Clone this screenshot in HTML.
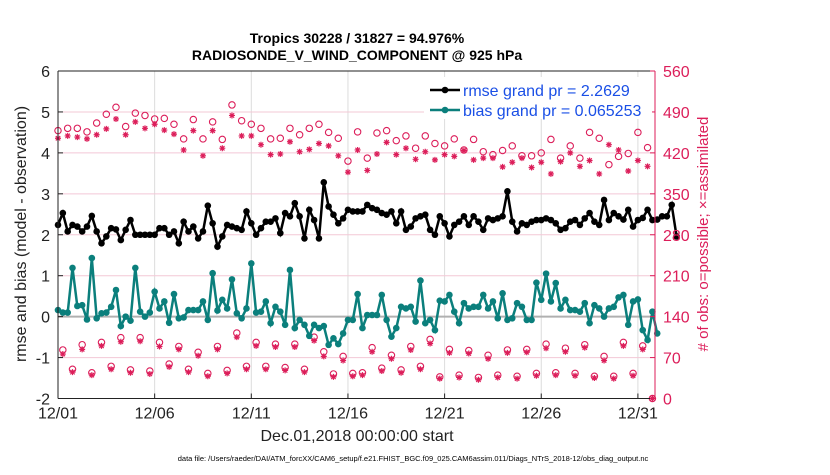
<!DOCTYPE html>
<html><head><meta charset="utf-8"><style>
body{margin:0;background:#fff}
svg text{font-family:"Liberation Sans",sans-serif}
</style></head><body>
<svg width="830" height="470" xmlns="http://www.w3.org/2000/svg">
<g id="g"></g>
</svg>
<script>
const rmse=[2.24,2.53,2.08,2.24,2.2,2.08,2.2,2.46,2.08,1.79,1.96,2.16,2.13,1.87,2.12,2.36,2.0,2.0,2.0,2.0,2.0,2.16,2.16,2.0,2.08,1.79,2.32,2.08,2.2,1.91,2.08,2.71,2.28,1.71,1.96,2.24,2.2,2.16,2.12,2.57,2.28,2.0,2.16,2.32,2.32,2.4,2.04,2.53,2.45,2.77,2.45,1.91,2.61,2.36,1.91,3.28,2.69,2.49,2.28,2.4,2.61,2.57,
2.57,2.57,2.73,2.65,2.61,2.53,2.49,2.57,2.28,2.57,2.12,2.2,2.4,2.45,2.49,2.12,2.0,2.45,2.28,1.96,2.24,2.32,2.45,2.24,2.45,2.32,2.12,2.4,2.36,2.4,2.45,3.06,2.32,2.08,2.28,2.24,2.32,2.36,2.36,2.4,2.36,2.28,2.12,2.16,2.32,2.36,2.24,2.4,2.53,2.32,2.24,2.85,2.36,2.53,2.45,2.37,2.61,2.2,2.36,2.41,2.61,2.36,2.37,2.45,2.45,2.73,1.96];
const bias=[0.16,0.1,0.1,1.19,0.26,0.28,-0.07,1.43,-0.04,0.08,0.1,0.24,0.65,-0.23,0.0,-0.1,1.19,0.12,0.0,0.1,0.61,0.2,0.37,-0.15,0.55,-0.04,-0.02,0.16,0.16,0.16,0.37,-0.08,1.06,0.15,0.41,0.2,0.91,0.08,-0.04,0.2,1.3,0.1,0.12,0.37,-0.16,0.24,0.12,-0.2,1.14,-0.28,-0.08,-0.2,-0.47,-0.2,-0.28,-0.23,-0.69,-0.53,-0.67,-0.41,-0.08,-0.08,
0.55,-0.28,0.04,0.04,0.04,0.53,-0.08,-0.49,-0.28,0.24,0.2,0.24,-0.12,0.88,-0.16,-0.08,-0.33,0.39,0.37,0.53,0.12,-0.16,0.33,0.2,0.24,0.24,0.53,0.2,0.37,-0.04,0.57,-0.08,-0.04,0.33,0.24,-0.08,-0.08,0.83,0.41,1.05,0.37,0.82,0.2,0.41,0.16,0.16,0.12,0.33,-0.16,0.28,0.2,-0.0,0.2,0.24,0.47,0.53,-0.2,0.37,0.42,-0.33,-0.57,0.12,-0.41];
const possHi=[458,462,462,456,471,486,498,465,488,484,478,479,469,444,477,444,473,443,502,475,469,462,444,445,462,451,462,469,455,445,406,456,
411,454,458,441,449,428,449,436,432,444,425,443,422,417,424,432,415,415,420,443,411,432,411,455,445,400,414,419,455,429];
const assimHi=[445,449,447,444,451,461,478,451,473,462,469,459,452,425,458,415,458,428,484,449,449,434,417,418,439,422,426,436,432,415,387,425,
390,418,438,417,428,409,422,408,417,414,424,408,411,411,396,404,411,395,404,384,405,420,397,407,384,434,425,389,407,397];
const possLo=[83,50,92,44,96,55,104,49,104,47,96,59,89,50,79,43,89,48,112,55,96,55,93,53,93,50,105,80,42,72,43,
44,87,52,74,49,89,55,101,37,84,40,82,36,74,40,83,38,84,43,93,44,86,43,92,38,72,38,96,43,90,0];
const assimLo=[76,45,84,40,90,50,97,44,98,42,89,54,84,45,73,38,84,43,105,50,90,50,88,48,88,45,99,72,37,65,38,
40,80,47,68,44,83,50,94,34,78,36,77,32,68,36,78,34,79,39,86,40,80,39,87,35,65,34,90,39,84,0];
const yTicks=[-2,-1,0,1,2,3,4,5,6];
const rTicks=[0,70,140,210,280,350,420,490,560];
const xTicks=["12/01","12/06","12/11","12/16","12/21","12/26","12/31"];
const xTickDays=[0,5,10,15,20,25,30];

const L=58,R=655,T=71,B=398.5;
const X=t=>L+t*19.33;           // t in days
const Y=v=>T+(6-v)*(B-T)/8;
const YR=c=>B-c*(B-T)/560;
const RED="#dc1e5a",TEAL="#0b7f7c";
const g=document.getElementById('g');
const NS="http://www.w3.org/2000/svg";
function mk(tag,attrs,parent){const e=document.createElementNS(NS,tag);for(const k in attrs)e.setAttribute(k,attrs[k]);(parent||g).appendChild(e);return e;}
function txt(s,x,y,attrs){const e=mk('text',Object.assign({x:x,y:y},attrs));e.textContent=s;return e;}

mk('rect',{x:L,y:T,width:R-L,height:B-T,fill:'#fff'});
// grid
xTickDays.forEach((d,i)=>{
  const l=mk('line',{x1:X(d),x2:X(d),y1:T,y2:B,stroke:'#dcdcdc','stroke-width':1});
  
  
});
yTicks.forEach(v=>{
  const l=mk('line',{x1:L,x2:R,y1:Y(v),y2:Y(v),stroke:'#f3c8d6','stroke-width':1});
  
  
});
const z=mk('line',{x1:L,x2:R,y1:Y(0),y2:Y(0),stroke:'#b0b0b0','stroke-width':2});



// obs counts
function star(x,y,parent){
  const p=mk('path',{d:`M${x-3} ${y}H${x+3}M${x} ${y-3}V${y+3}M${x-2.2} ${y-2.2}L${x+2.2} ${y+2.2}M${x-2.2} ${y+2.2}L${x+2.2} ${y-2.2}`,stroke:RED,'stroke-width':1.2,fill:'none'},parent);
  
  
}
function circ(x,y,parent){
  const c=mk('circle',{cx:x,cy:y,r:3.2,fill:'none',stroke:RED,'stroke-width':1.1},parent);
  
  
}
const og=mk('g',{});


possHi.forEach((c,i)=>{circ(X(i*0.5),YR(c),og);});
assimHi.forEach((c,i)=>{star(X(i*0.5),YR(c),og);});
possLo.forEach((c,i)=>{circ(X(i*0.5+0.25),YR(c),og);});
assimLo.forEach((c,i)=>{star(X(i*0.5+0.25),YR(c),og);});

// lines
function series(vals,color,name){
  const pts=vals.map((v,i)=>X(i*0.25).toFixed(1)+','+Y(v).toFixed(1)).join(' ');
  const sg=mk('g',{});
  
  
  mk('polyline',{points:pts,fill:'none',stroke:color,'stroke-width':2.5},sg);
  vals.forEach((v,i)=>{
    const c=mk('circle',{cx:X(i*0.25),cy:Y(v),r:3.3,fill:color},sg);
    
    
  });
}
series(rmse,'#000','rmse-line');
series(bias,TEAL,'bias-line');

// axes
mk('line',{x1:L,x2:R,y1:T,y2:T,stroke:'#222','stroke-width':1});
mk('line',{x1:L,x2:R,y1:B,y2:B,stroke:'#222','stroke-width':1});
mk('line',{x1:L,x2:L,y1:T,y2:B,stroke:'#222','stroke-width':1});
mk('line',{x1:R,x2:R,y1:T,y2:B,stroke:RED,'stroke-width':1});
yTicks.forEach(v=>{
  mk('line',{x1:L,x2:L+5,y1:Y(v),y2:Y(v),stroke:'#222'});
  const t=txt(String(v),L-8,Y(v)+6,{'font-size':16,'text-anchor':'end',fill:'#222'});
  
  
});
rTicks.forEach(c=>{
  mk('line',{x1:R-5,x2:R,y1:YR(c),y2:YR(c),stroke:RED});
  const t=txt(String(c),R+8,YR(c)+6,{'font-size':16,fill:RED});
  
  
});
xTicks.forEach((s,i)=>{
  mk('line',{x1:X(xTickDays[i]),x2:X(xTickDays[i]),y1:B,y2:B-5,stroke:'#222'});
  const t=txt(s,X(xTickDays[i]),B+20,{'font-size':16,'text-anchor':'middle',fill:'#222'});
  
  
});
</script>
<svg width="830" height="470" style="position:absolute;left:0;top:0" xmlns="http://www.w3.org/2000/svg">
<text x="357" y="43" font-size="14" font-weight="bold" text-anchor="middle" fill="#000">Tropics 30228 / 31827 = 94.976%</text>
<text x="357" y="60" font-size="14" font-weight="bold" text-anchor="middle" fill="#000">RADIOSONDE_V_WIND_COMPONENT @ 925 hPa</text>
<text transform="translate(26,234) rotate(-90)" font-size="16" text-anchor="middle" fill="#222">rmse and bias (model - observation)</text>
<text transform="translate(708,234) rotate(-90)" font-size="15" text-anchor="middle" fill="#dc1e5a"># of obs: o=possible; ×=assimilated</text>
<text x="357" y="441" font-size="16" text-anchor="middle" fill="#222">Dec.01,2018 00:00:00 start</text>
<text x="413" y="461" font-size="7.5" text-anchor="middle" fill="#000">data file: /Users/raeder/DAI/ATM_forcXX/CAM6_setup/f.e21.FHIST_BGC.f09_025.CAM6assim.011/Diags_NTrS_2018-12/obs_diag_output.nc</text>
<g>
<rect x="424" y="77" width="228" height="42" fill="#fff"/>
<line x1="430" y1="90" x2="460" y2="90" stroke="#000" stroke-width="2.5"/><circle cx="445" cy="90" r="3.3" fill="#000"/>
<text x="463" y="96" font-size="16" fill="#1a4fe6">rmse grand pr = 2.2629</text>
<line x1="430" y1="110" x2="460" y2="110" stroke="#0b7f7c" stroke-width="2.5"/><circle cx="445" cy="110" r="3.3" fill="#0b7f7c"/>
<text x="463" y="116" font-size="16" fill="#1a4fe6">bias grand pr = 0.065253</text>
</g>
</svg>
</body></html>
